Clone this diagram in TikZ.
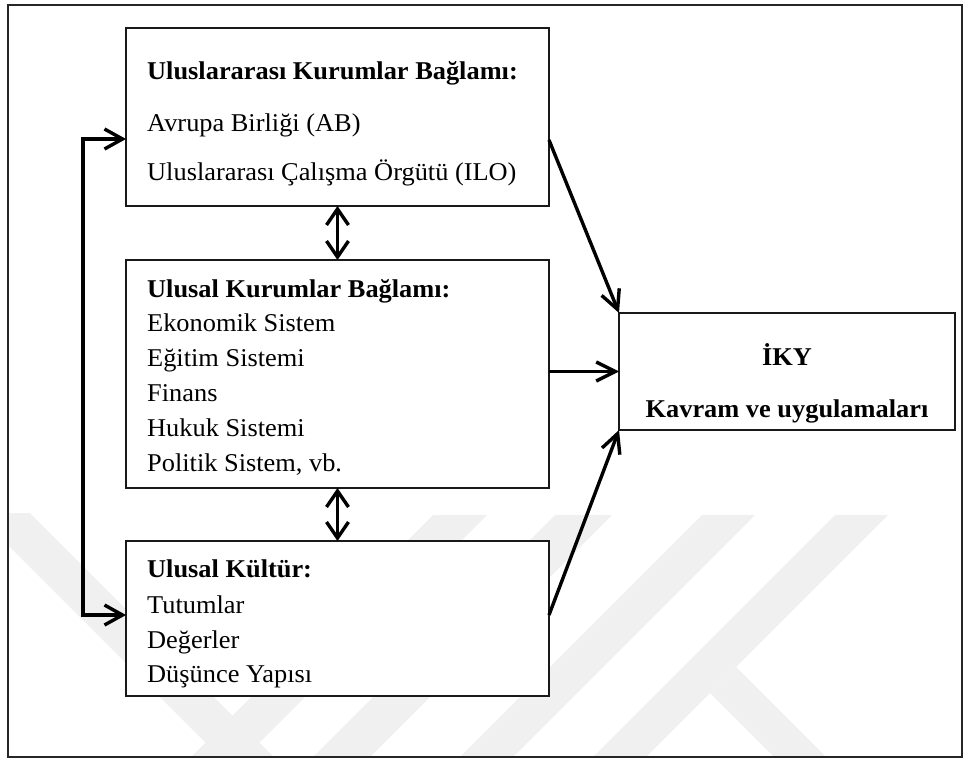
\documentclass[tikz,border=0pt]{standalone}
\usepackage{fontspec}
\setmainfont{Liberation Serif}[FakeStretch=1.03]
\usetikzlibrary{arrows.meta}
\begin{document}
\begin{tikzpicture}[x=1pt,y=-1pt,
  frame/.style={draw=black!85, line width=1.8pt},
  wmark/.style={fill=black!6},
  box/.style={draw=black!90, line width=1.3pt, fill=white, inner sep=0pt, outer sep=0pt},
  txt/.style={anchor=base west, inner sep=0pt, font=\fontsize{25.6}{30}\selectfont},
  ttl/.style={anchor=base west, inner sep=0pt, font=\fontsize{25.6}{30}\selectfont\bfseries},
  ctr/.style={anchor=base, inner sep=0pt, font=\fontsize{25.6}{30}\selectfont\bfseries},
  conn/.style={line width=3.4pt, -{Straight Barb[length=19pt,width=19pt,line width=3.4pt]}},
  sideconn/.style={line width=3.4pt, {Straight Barb[length=18pt,width=20pt,line width=3.4pt]}-{Straight Barb[length=18pt,width=20pt,line width=3.4pt]}},
  dbl/.style={line width=3.4pt, {Straight Barb[length=16pt,width=22pt,line width=3.4pt]}-{Straight Barb[length=16pt,width=22pt,line width=3.4pt]}}
]
\useasboundingbox (0,0) rectangle (969,760);

% faint background stripes
\begin{scope}
  \clip (9,6) rectangle (961,756);
  \fill[wmark] (-24,513) -- (30,513) -- (274,757) -- (220,757) -- cycle;
  \fill[wmark] (433,515) -- (487,515) -- (245,757) -- (191,757) -- cycle;
  \fill[wmark] (555,515) -- (612,515) -- (370,757) -- (313,757) -- cycle;
  \fill[wmark] (702,515) -- (755,515) -- (513,757) -- (460,757) -- cycle;
  \fill[wmark] (835,515) -- (888,515) -- (646,757) -- (593,757) -- cycle;
  \fill[wmark] (736,667) -- (710,693) -- (774,757) -- (826,757) -- cycle;
\end{scope}

% outer frame
\draw[frame] (8,5) rectangle (962,757);

% boxes
\node[box, minimum width=423pt, minimum height=178pt] (b1) at (337.5,117) {};
\node[box, minimum width=423pt, minimum height=228pt] (b2) at (337.5,374) {};
\node[box, minimum width=423pt, minimum height=155pt] (b3) at (337.5,618.5) {};
\node[box, minimum width=336pt, minimum height=117pt] (iky) at (787,371.5) {};

% box texts
\node[ttl] (t11) at (147,80) {Uluslararası Kurumlar Bağlamı:};
\node[txt] (t12) at (147,131) {Avrupa Birliği (AB)};
\node[txt] (t13) at (147,180) {Uluslararası Çalışma Örgütü (ILO)};

\node[ttl] (t21) at (147,297) {Ulusal Kurumlar Bağlamı:};
\node[txt] (t22) at (147,331) {Ekonomik Sistem};
\node[txt] (t23) at (147,366) {Eğitim Sistemi};
\node[txt] (t24) at (147,401) {Finans};
\node[txt] (t25) at (147,436) {Hukuk Sistemi};
\node[txt] (t26) at (147,471) {Politik Sistem, vb.};

\node[ttl] (t31) at (147,577) {Ulusal Kültür:};
\node[txt] (t32) at (147,613) {Tutumlar};
\node[txt] (t33) at (147,648) {Değerler};
\node[txt] (t34) at (147,682) {Düşünce Yapısı};

\node[ctr] (t41) at (787,365) {İKY};
\node[ctr] (t42) at (787,417) {Kavram ve uygulamaları};

% connectors
\draw[dbl] (b1.south) -- (b2.north);
\draw[dbl] (b2.south) -- (b3.north);

\coordinate (lt) at (83,139);
\coordinate (lb) at (83,615);
\draw[sideconn] (b1.west |- lt) -- (lt) -- (lb) -- (b3.west |- lb);

\draw[conn] ([yshift=-23pt]b1.east) -- (iky.north west);
\draw[conn] (b2.east |- iky.west) -- (iky.west);
\draw[conn] ([yshift=3.5pt]b3.east) -- (iky.south west);
\end{tikzpicture}
\end{document}
